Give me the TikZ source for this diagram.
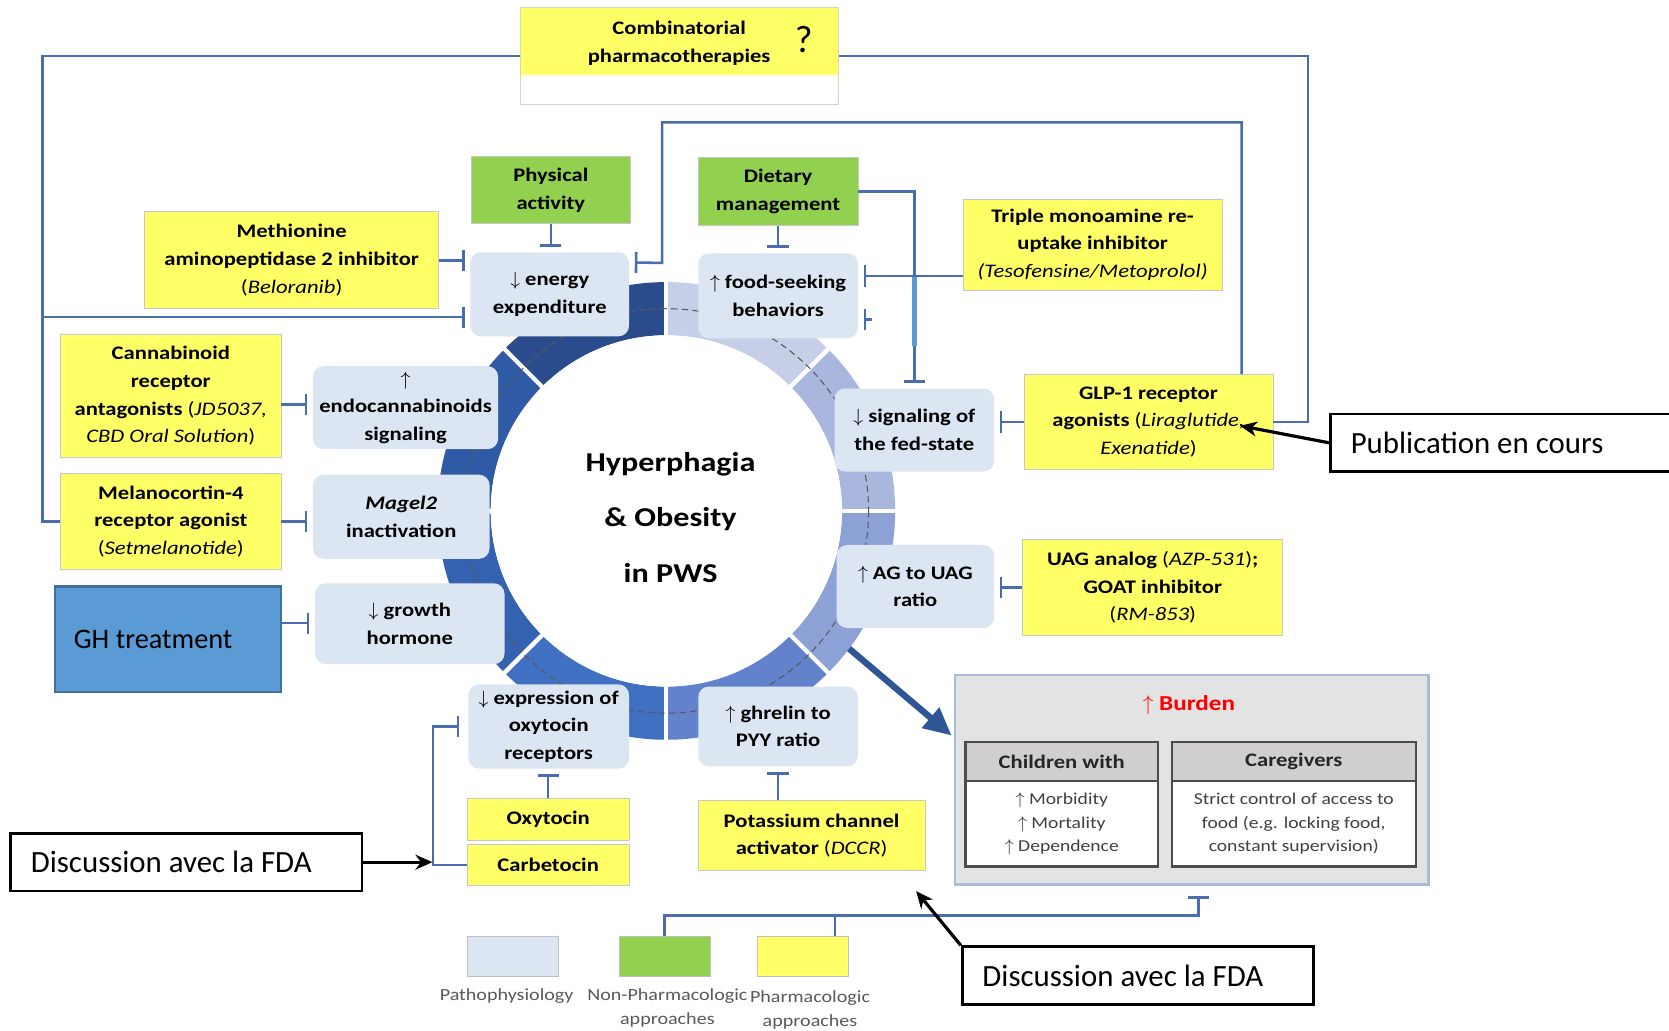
\documentclass[tikz,border=0pt]{standalone}
\usepackage{fontspec}
\setmainfont{Carlito}[FakeStretch=1.18]
\newfontfamily\plainf{Carlito}
\usetikzlibrary{arrows.meta,calc}
\definecolor{yel}{HTML}{FFFF66}
\definecolor{grn}{HTML}{92D050}
\definecolor{pth}{HTML}{DCE6F2}
\definecolor{lnb}{HTML}{4A6CB0}
\definecolor{ghb}{HTML}{5B9BD5}
\definecolor{ghbd}{HTML}{41719C}
\definecolor{navyarr}{HTML}{2F5597}
\definecolor{brd}{HTML}{E3E3E3}
\definecolor{brdline}{HTML}{A9BCD9}
\definecolor{hdr}{HTML}{D0CECE}
\definecolor{combbd}{HTML}{D6D6B8}
\definecolor{rA}{HTML}{2B4C8C}
\definecolor{rB}{HTML}{2E5AA6}
\definecolor{rC}{HTML}{3461B0}
\definecolor{rD}{HTML}{4070C2}
\definecolor{rE}{HTML}{6282CB}
\definecolor{rF}{HTML}{8CA1D6}
\definecolor{rG}{HTML}{A9B7DE}
\definecolor{rH}{HTML}{C6CEE8}
\newcommand\bxf{\fontsize{9}{13}\selectfont\bfseries}
\newcommand\upar{\ensuremath{\uparrow}}
\newcommand\dnar{\ensuremath{\downarrow}}
\newcommand\ital[1]{{\mdseries\itshape #1}}
\newcommand\pr[1]{{\mdseries(}\ital{#1}{\mdseries)}}
\tikzset{
 sz/.style n args={2}{minimum width=#1pt, minimum height=#2pt},
 bx/.style={inner sep=0pt, align=center, font=\bxf},
 ybox/.style={bx, draw=black!22, fill=yel},
 gbox/.style={bx, draw=black!22, fill=grn},
 pbox/.style={bx, fill=pth, rounded corners=5pt},
 tbar/.style={draw=lnb, line width=1.2pt, -{Bar[width=10pt,line width=1.2pt]}, shorten >=2.5pt},
 conn/.style={draw=lnb, line width=1.2pt},
 note/.style={draw=black, line width=1.3pt, fill=white, font=\plainf\fontsize{14.5}{16}\selectfont, align=flush left, text width=146pt, inner xsep=9.5pt, inner ysep=0pt, minimum height=27pt},
 callout/.style={draw=black, line width=1.5pt, -{Stealth[length=8pt,width=7pt]}},
 lgl/.style={font=\fontsize{8}{11.5}\selectfont, text=black!65, align=center, inner sep=0pt},
}
\begin{document}
\begin{tikzpicture}[x=0.5pt,y=-0.5pt]
\useasboundingbox (0,0) rectangle (1568,968);
\clip (0,0) rectangle (1568,968);
\fill[white] (0,0) rectangle (1568,968);

% ring
\coordinate (ctr) at (626,480);
\foreach \a/\c in {-135/rA,-180/rB,-225/rC,-270/rD,-315/rE,-360/rF,-45/rG,-90/rH}{
  \draw[\c, line width=25pt] ($(ctr)+(\a:190)$) arc[start angle=\a, end angle=\a+45, radius=190];
}
\foreach \a in {0,45,...,315}{
  \draw[white, line width=2pt] ($(ctr)+(\a:160)$) -- ($(ctr)+(\a:222)$);
}
\fill[white] (ctr) circle[radius=165];
\draw[black!65, line width=0.5pt, dash pattern=on 3pt off 2pt] (ctr) circle[radius=190];
\node[font=\fontsize{12.8}{26}\selectfont\bfseries, align=center] (hyp) at (630,486) {Hyperphagia\\\& Obesity\\in PWS};

% combinatorial
\node[draw=combbd, fill=white, sz={149.5}{45.5}] (comb) at (638.5,52.5) {};
\fill[yel] (489.5,7.5) rectangle (787.5,70);
\node[font=\bxf, align=center] (combt) at (638,40.5) {Combinatorial\\pharmacotherapies};
\node[font=\plainf\fontsize{18}{20}\selectfont] (q) at (755,37) {?};

% boxes
\node[gbox, sz={74.5}{31.5}] (phys) at (517.5,178.5) {Physical\\activity};
\node[gbox, sz={75}{32}] (diet) at (731,180) {Dietary\\management};
\node[ybox, sz={138}{45.5}] (meth) at (274,244.5) {Methionine\\aminopeptidase 2 inhibitor\\\pr{Beloranib}};
\node[pbox, sz={74.5}{39.5}] (energy) at (516.5,276.5) {\dnar\ energy\\expenditure};
\node[pbox, sz={75}{40}] (food) at (731,278) {\upar\ food-seeking\\behaviors};
\node[ybox, sz={121.5}{43}] (triple) at (1026.5,230) {Triple monoamine re-\\uptake inhibitor\\\ital{(Tesofensine/Metoprolol)}};
\node[ybox, sz={103.5}{58}] (canna) at (160.5,372) {Cannabinoid\\receptor\\antagonists {\mdseries(}\ital{JD5037,}\\\ital{CBD Oral Solution}{\mdseries)}};
\node[pbox, sz={87}{39}] (endo) at (381,383) {\upar\\endocannabinoids\\signaling};
\node[ybox, sz={103.5}{45}] (mc4) at (160.5,490) {Melanocortin-4\\receptor agonist\\\pr{Setmelanotide}};
\node[pbox, sz={83}{39.5}] (magel) at (377,485.5) {\textit{Magel2}\\inactivation};
\node[draw=ghbd, line width=1pt, fill=ghb, sz={106}{49.5}] (gh) at (158,600.5) {};
\node[anchor=west, font=\plainf\fontsize{13.3}{15}\selectfont, inner sep=0pt] (ghlbl) at ($(gh.west)+(18,0)$) {GH treatment};
\node[pbox, sz={89}{38}] (growth) at (385,586) {\dnar\ growth\\hormone};
\node[pbox, sz={75.5}{39.5}] (oxyr) at (515.5,682.5) {\dnar\ expression of\\oxytocin\\receptors};
\node[pbox, sz={75}{37.5}] (ghrelin) at (731,682.5) {\upar\ ghrelin to\\PYY ratio};
\node[ybox, sz={76}{20}] (oxy) at (515,770) {Oxytocin};
\node[ybox, sz={76}{19.5}] (carb) at (515,812.5) {Carbetocin};
\node[ybox, sz={106.5}{33}] (potas) at (762.5,785) {Potassium channel\\activator \pr{DCCR}};
\node[pbox, sz={75}{39}] (fed) at (859,404) {\dnar\ signaling of\\the fed-state};
\node[ybox, sz={117}{44.5}] (glp) at (1079,396.5) {GLP-1 receptor\\agonists {\mdseries(}\ital{Liraglutide,}\\\ital{Exenatide}{\mdseries)}};
\node[pbox, sz={74}{39}] (ag) at (860,551) {\upar\ AG to UAG\\ratio};
\node[ybox, sz={122}{45}] (uag) at (1083,552) {UAG analog \pr{AZP-531};\\GOAT inhibitor\\\pr{RM-853}};

% burden
\node[draw=brdline, line width=1pt, fill=brd, sz={222.5}{98.5}] (burden) at (1119.5,732.5) {};
\node[font=\fontsize{10}{12}\selectfont\bfseries, text=red] (burdt) at (1117,662) {\upar\ Burden};
\node[draw=black!70, line width=1pt, fill=hdr, sz={90.5}{18.5}, font=\fontsize{9}{10}\selectfont\bfseries, text=black!85] (chead) at (997.5,715.5) {Children with};
\node[draw=black!70, line width=1pt, fill=white, sz={90.5}{40}, font=\fontsize{7.8}{11}\selectfont, text=black!75, align=center, inner sep=0pt] (cbody) at (997.5,774) {\upar\ Morbidity\\\upar\ Mortality\\\upar\ Dependence};
\node[draw=black!70, line width=1pt, fill=hdr, sz={114.5}{18.5}, font=\fontsize{9}{10}\selectfont\bfseries, text=black!85] (cghead) at (1215.5,715.5) {Caregivers};
\node[draw=black!70, line width=1pt, fill=white, sz={114.5}{40}, font=\fontsize{7.8}{11}\selectfont, text=black!75, align=center, inner sep=0pt] (cgbody) at (1215.5,774) {Strict control of access to\\food (e.g. locking food,\\constant supervision)};
\coordinate (ringpt) at ($(ctr)+(37:215)$);
\draw[navyarr, line width=3pt, -{Triangle[length=13pt,width=12pt]}] (ringpt) -- ($(burden.north west)+(-2,58)$);

% legend
\node[draw=black!25, fill=pth, sz={43}{18.5}] (lpath) at (482,898.5) {};
\node[draw=black!25, fill=grn, sz={42.5}{18.5}] (lgreen) at (624.5,898.5) {};
\node[draw=black!25, fill=yel, sz={42.5}{18.5}] (lyel) at (754.5,898.5) {};
\node[lgl] (lpt) at (476,936) {Pathophysiology};
\node[lgl] (lnp) at (627,947) {Non-Pharmacologic\\approaches};
\node[lgl] (lph) at (761,949) {Pharmacologic\\approaches};

% connectors
\coordinate (lvtop) at (40,52.5);
\coordinate (lvbr) at (40,298);
\coordinate (rvtop) at (1229,52.5);
\draw[conn] (comb.west) -- (lvtop) |- (mc4.west);
\draw[tbar] (lvbr) -- (lvbr -| energy.west);
\draw[conn] (comb.east) -- (rvtop) |- (glp.east);
\draw[tbar] ($(glp.north east)+(-30,0)$) |- (622,115) -- (622,247) -- ($(energy.north east)+(0,10)$);
\draw[tbar] (meth.east) -- (meth.east -| energy.west);
\draw[tbar] (phys.south) -- (phys.south |- energy.north);
\draw[tbar] (diet.south) -- (diet.south |- food.north);
\draw[tbar] (diet.east) -| (fed.north);
\draw[ghb, line width=2.4pt] (fed.north |- 0,258) -- (fed.north |- 0,325);
\coordinate (tw) at ($(triple.south west)+(0,-14)$);
\draw[tbar] (tw) -- (tw -| food.east);
\coordinate (stub) at (819,300);
\draw[tbar] (stub) -- (stub -| food.east);
\draw[tbar] (glp.west) -- (glp.west -| fed.east);
\draw[tbar] (uag.west) -- (uag.west -| ag.east);
\coordinate (cc) at ($(canna.east)+(0,8)$);
\draw[tbar] (cc) -- (cc -| endo.west);
\draw[tbar] (mc4.east) -- (mc4.east -| magel.west);
\coordinate (ghc) at ($(gh.east)+(0,-15)$);
\draw[tbar] (ghc) -- (ghc -| growth.west);
\draw[tbar] (oxy.north) -- (oxy.north |- oxyr.south);
\draw[tbar] (ghrelin.south |- potas.north) -- (ghrelin.south);
\draw[tbar, shorten >=4pt] (carb.west) -- ++(-32,0) |- (oxyr.west);
\coordinate (bj) at (1126,860);
\draw[tbar, shorten >=5pt] (lgreen.north) |- (bj) -- (bj |- burden.south);
\draw[conn] ($(lyel.north)+(30,0)$) -- ++(0,-20);

% notes
\node[note] (pub) at (1415,416) {Publication en cours};
\node[note] (fda1) at (175,810) {Discussion avec la FDA};
\node[note] (fda2) at (1069,916.5) {Discussion avec la FDA};
\coordinate (pubt) at (1165,400);
\draw[callout] (pub.west) -- (pubt);
\draw[callout] (fda1.east) -- ++(65,0);
\draw[callout] (fda2.north west) -- ++(-42,-51);
\end{tikzpicture}
\end{document}
